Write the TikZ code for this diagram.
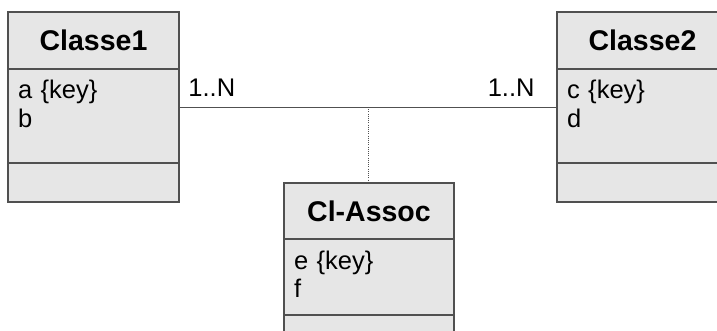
\documentclass[tikz,border=0pt]{standalone}
\usepackage{fontspec}
\setmainfont{Liberation Sans}
\usetikzlibrary{positioning}

\definecolor{boxgray}{HTML}{E6E6E6}
\definecolor{linegray}{HTML}{505050}

\tikzset{
  umlpart/.style={draw=linegray,fill=boxgray,line width=1.2pt,outer sep=0pt,
    minimum width=#1,inner sep=0pt},
  classname/.style={umlpart=171pt,minimum height=57pt,
    font=\fontsize{28.5}{32}\selectfont\bfseries},
  classattr/.style={umlpart=171pt,text width=151pt,align=left,inner xsep=10pt,
    inner ysep=6pt,text height=24pt,text depth=#1,
    font=\fontsize{25.5}{28.7}\selectfont},
  classops/.style={umlpart=171pt,minimum height=39pt},
  assoc/.style={draw=linegray,line width=0.9pt},
  mult/.style={font=\fontsize{25.5}{28.7}\selectfont,inner xsep=9pt,inner ysep=10pt}
}

\begin{document}
\begin{tikzpicture}[x=1pt,y=-1pt]
  \clip (0,0) rectangle (717,331);
  \fill[white] (0,0) rectangle (717,331);

  % classes
  \node[classname,anchor=north west] (c1name) at (8,12) {Classe1};
  \node[classattr=58pt,below=0pt of c1name] (c1attr) {a \{key\}\\b};
  \node[classops,below=0pt of c1attr] (c1ops) {};

  \node[classname,anchor=north west] (c2name) at (557,12) {Classe2};
  \node[classattr=58pt,below=0pt of c2name] (c2attr) {c \{key\}\\d};
  \node[classops,below=0pt of c2attr] (c2ops) {};

  % association class
  \node[classname,minimum width=170pt,minimum height=56pt,anchor=north west]
    (caname) at (284,183) {Cl-Assoc};
  \node[classattr=40pt,minimum width=170pt,text width=150pt,below=0pt of caname]
    (caattr) {e \{key\}\\f};
  \node[classops,minimum width=170pt,below=0pt of caattr] (caops) {};

  \draw[assoc] ([yshift=-38pt]c1attr.north east)
      node[mult,anchor=south west] (m1) {1..N}
    -- ([yshift=-38pt]c2attr.north west)
      node[mult,anchor=south east,xshift=-13pt] (m2) {1..N}
    coordinate[pos=0.5] (mid);
  \draw[assoc,dash pattern=on 1pt off 1.2pt] (mid) -- (mid |- caname.north);
\end{tikzpicture}
\end{document}
